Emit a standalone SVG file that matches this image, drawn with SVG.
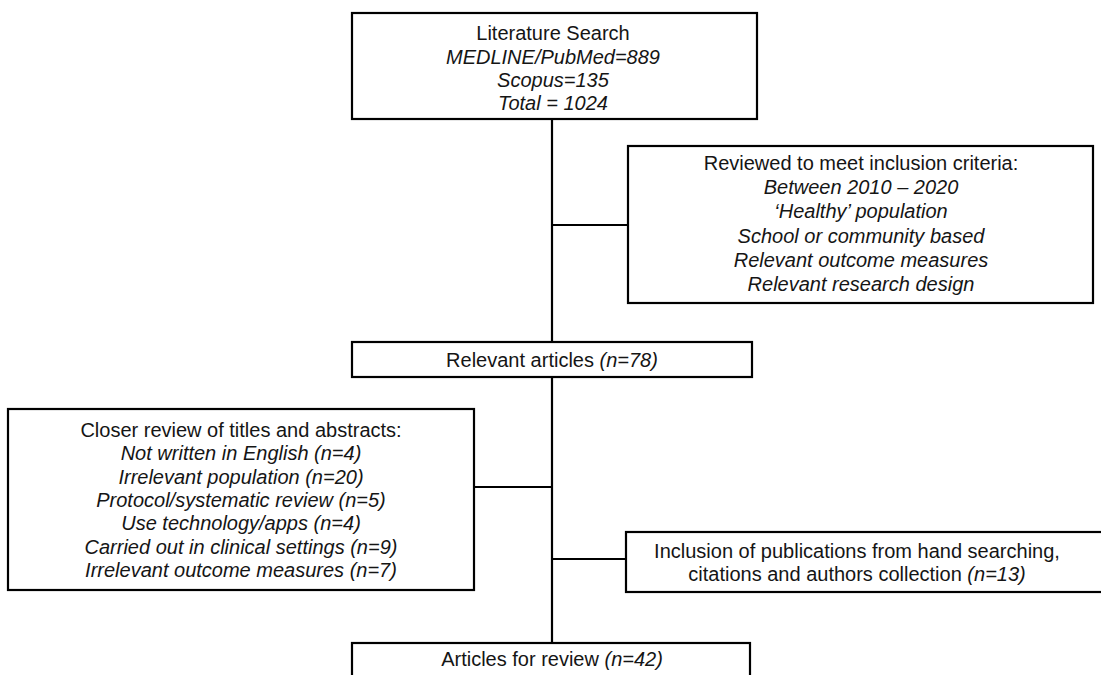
<svg xmlns="http://www.w3.org/2000/svg" width="1101" height="675" viewBox="0 0 1101 675">
  <style>
    .box { fill: #ffffff; stroke: #000000; stroke-width: 2.2; }
    .wire { fill: none; stroke: #000000; stroke-width: 2.2; }
    text { font-family: "Liberation Sans", Arial, sans-serif; font-size: 20px; fill: #151515; text-anchor: middle; }
    .it { font-style: italic; }
  </style>
  <rect width="1101" height="675" fill="#ffffff"/>

  <!-- connectors -->
  <g id="connectors">
    <line class="wire" x1="552" y1="119" x2="552" y2="342"/>
    <line class="wire" x1="552" y1="225" x2="628" y2="225"/>
    <line class="wire" x1="552" y1="377" x2="552" y2="643"/>
    <line class="wire" x1="474" y1="487" x2="552" y2="487"/>
    <line class="wire" x1="552" y1="559" x2="626" y2="559"/>
  </g>

  <g id="search">
    <rect class="box" x="352" y="13" width="405" height="106"/>
    <text x="553" y="40">Literature Search</text>
    <text class="it" x="553" y="64">MEDLINE/PubMed=889</text>
    <text class="it" x="553" y="87">Scopus=135</text>
    <text class="it" x="553" y="110">Total = 1024</text>
  </g>

  <g id="criteria">
    <rect class="box" x="628" y="146" width="465" height="157"/>
    <text x="861" y="170">Reviewed to meet inclusion criteria:</text>
    <text class="it" x="861" y="194">Between 2010 – 2020</text>
    <text class="it" x="861" y="218">‘Healthy’ population</text>
    <text class="it" x="861" y="243">School or community based</text>
    <text class="it" x="861" y="267">Relevant outcome measures</text>
    <text class="it" x="861" y="291">Relevant research design</text>
  </g>

  <g id="relevant">
    <rect class="box" x="352" y="342" width="400" height="35"/>
    <text x="552" y="367">Relevant articles <tspan class="it">(n=78)</tspan></text>
  </g>

  <g id="closer-review">
    <rect class="box" x="8" y="409" width="466" height="181"/>
    <text x="241" y="437">Closer review of titles and abstracts:</text>
    <text class="it" x="241" y="460">Not written in English (n=4)</text>
    <text class="it" x="241" y="484">Irrelevant population (n=20)</text>
    <text class="it" x="241" y="507">Protocol/systematic review (n=5)</text>
    <text class="it" x="241" y="530">Use technology/apps (n=4)</text>
    <text class="it" x="241" y="554">Carried out in clinical settings (n=9)</text>
    <text class="it" x="241" y="577">Irrelevant outcome measures (n=7)</text>
  </g>

  <g id="hand-search">
    <rect class="box" x="626" y="532" width="480" height="60"/>
    <text x="857" y="558">Inclusion of publications from hand searching,</text>
    <text x="857" y="581">citations and authors collection <tspan class="it">(n=13)</tspan></text>
  </g>

  <g id="final">
    <rect class="box" x="352" y="643" width="398" height="40"/>
    <text x="552" y="666">Articles for review <tspan class="it">(n=42)</tspan></text>
  </g>
</svg>
